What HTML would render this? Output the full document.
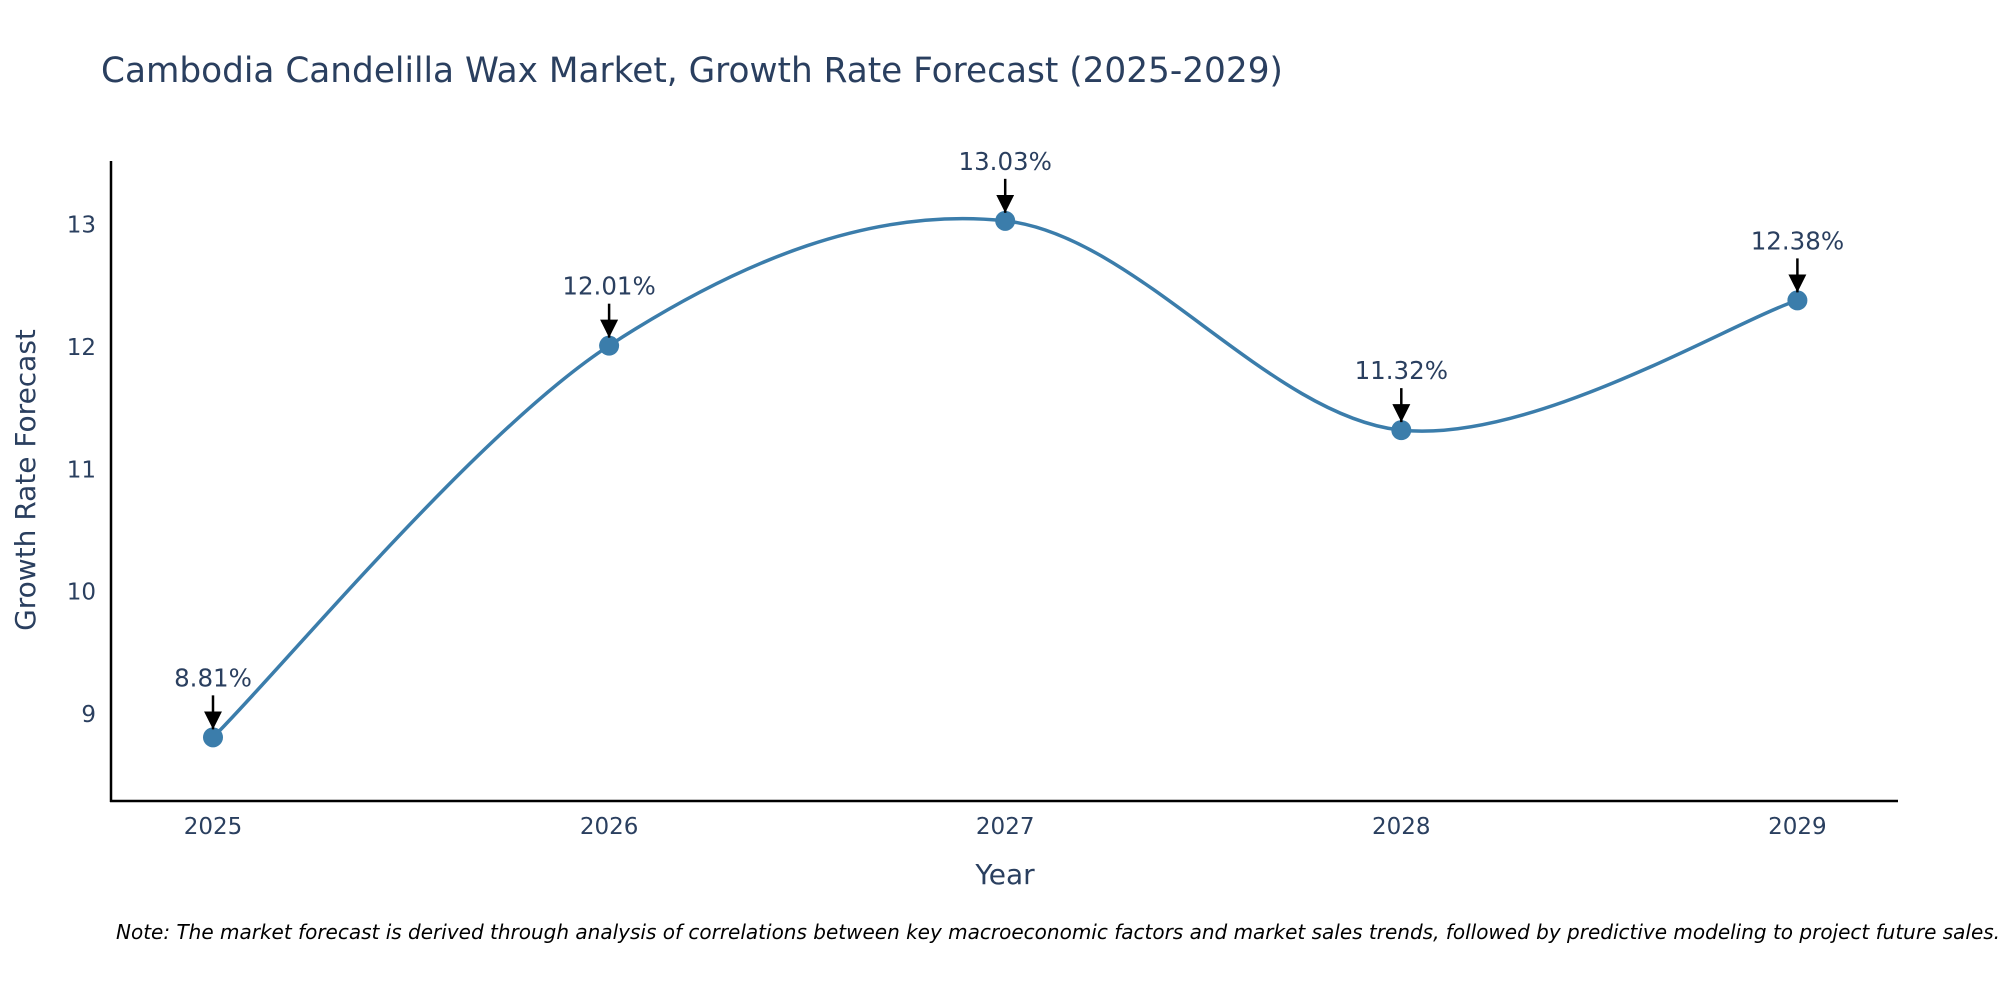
<!DOCTYPE html>
<html><head><meta charset="utf-8"><style>
body{margin:0;background:#fff;}
svg{display:block;font-family:"DejaVu Sans","Liberation Sans",sans-serif;}
</style></head><body>
<svg id="chart" width="2000" height="1000" viewBox="0 0 2000 1000">
<defs><marker id="arr" markerWidth="18" markerHeight="18" refX="14" refY="7" orient="auto" markerUnits="userSpaceOnUse" viewBox="0 0 14 14"><path d="M0,0 L14,7 L0,14 z" fill="#000"/></marker></defs>
<text x="101" y="82" font-size="34.3" fill="#2a3f5f">Cambodia Candelilla Wax Market, Growth Rate Forecast (2025-2029)</text>
<line x1="111" y1="161" x2="111" y2="802" stroke="#000" stroke-width="2.5"/>
<line x1="110" y1="801" x2="1898" y2="801" stroke="#000" stroke-width="2.5"/>
<g id="yt"></g><g id="xt"></g>
<text x="35" y="480" font-size="28" fill="#2a3f5f" text-anchor="middle" transform="rotate(-90 35 480)">Growth Rate Forecast</text>
<text x="1005" y="884" font-size="28" fill="#2a3f5f" text-anchor="middle">Year</text>
<path id="line" fill="none" stroke="#3b7dab" stroke-width="3.5"/>
<g id="pts"></g>
<text x="116" y="939" font-size="20" font-style="italic" fill="#000">Note: The market forecast is derived through analysis of correlations between key macroeconomic factors and market sales trends, followed by predictive modeling to project future sales.</text>
</svg>
<script>
const years=["2025","2026","2027","2028","2029"];
const values=[8.81,12.01,13.03,11.32,12.38];
const yTicks=[9,10,11,12,13];
const NS="http://www.w3.org/2000/svg";
function xs(i){return 213+i*396.1;}
function ys(v){return 224.5+(13-v)*122.4;}
function mk(t,a,p){const e=document.createElementNS(NS,t);for(const k in a)e.setAttribute(k,a[k]);p.appendChild(e);return e;}
const yt=document.getElementById('yt'),xt=document.getElementById('xt'),pts=document.getElementById('pts');
yTicks.forEach(v=>{const t=mk('text',{x:96,y:ys(v)+8,'font-size':23,fill:'#2a3f5f','text-anchor':'end'},yt);t.textContent=v;

});
years.forEach((y,i)=>{const t=mk('text',{x:xs(i),y:834,'font-size':23,fill:'#2a3f5f','text-anchor':'middle'},xt);t.textContent=y;

});
const P=values.map((v,i)=>[xs(i),ys(v)]);
let d=`M${P[0][0]},${P[0][1]}`;
for(let i=0;i<P.length-1;i++){const p0=P[Math.max(0,i-1)],p1=P[i],p2=P[i+1],p3=P[Math.min(P.length-1,i+2)];const k=1/6;
d+=` C${p1[0]+(p2[0]-p0[0])*k},${p1[1]+(p2[1]-p0[1])*k} ${p2[0]-(p3[0]-p1[0])*k},${p2[1]-(p3[1]-p1[1])*k} ${p2[0]},${p2[1]}`;}
document.getElementById('line').setAttribute('d',d);
P.forEach((p,i)=>{const c=mk('circle',{cx:p[0],cy:p[1],r:10,fill:'#3b7dab'},pts);


const l=mk('line',{x1:p[0],y1:p[1]-42,x2:p[0],y2:p[1]-8,stroke:'#000','stroke-width':2.5,'marker-end':'url(#arr)'},pts);


const t=mk('text',{x:p[0],y:p[1]-51,'font-size':24.5,fill:'#2a3f5f','text-anchor':'middle'},pts);t.textContent=values[i].toFixed(2)+'%';

});
</script>
</body></html>
